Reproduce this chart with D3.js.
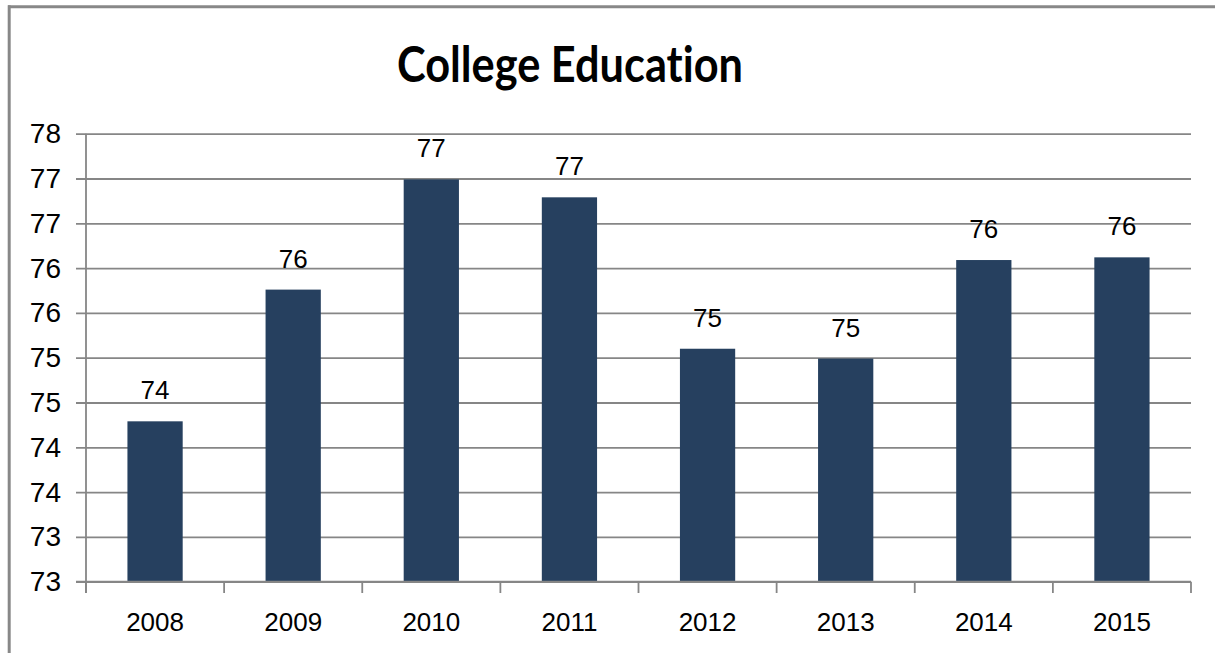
<!DOCTYPE html>
<html>
<head>
<meta charset="utf-8">
<script src="https://cdn.jsdelivr.net/npm/d3@7/dist/d3.min.js"></script>
<style>
  html, body { margin: 0; padding: 0; background: #fff; }
  svg { display: block; }
  text { font-variant-ligatures: none; font-feature-settings: "liga" 0, "clig" 0; }
</style>
</head>
<body>
<svg id="chart" width="1215" height="653"></svg>
<script>
// College Education by year
const years = ["2008", "2009", "2010", "2011", "2012", "2013", "2014", "2015"];
const values = [74.29, 75.76, 76.99, 76.79, 75.10, 74.99, 76.09, 76.12];
const yTicks = [72.5, 73, 73.5, 74, 74.5, 75, 75.5, 76, 76.5, 77, 77.5];
const title = "College Education";

const svg = d3.select("#chart");
const W = 1215, H = 653;
const plot = { left: 86, right: 1191, top: 133.7, bottom: 581.7 };

const gridColor = "#868686";
const barColor = "#26405f";
const fontFamily = "'Liberation Sans', Arial, sans-serif";

// outer frame (top and left edges)
svg.append("line")
  .attr("x1", 8).attr("x2", W).attr("y1", 6.8).attr("y2", 6.8)
  .attr("stroke", "#888").attr("stroke-width", 3);
svg.append("line")
  .attr("x1", 9.2).attr("x2", 9.2).attr("y1", 5.3).attr("y2", H)
  .attr("stroke", "#888").attr("stroke-width", 3);

// title
svg.append("text")
  .attr("x", 570).attr("y", 82)
  .attr("text-anchor", "middle")
  .attr("font-family", "Lato, 'Open Sans', sans-serif")
  .attr("font-weight", "bold")
  .attr("font-size", 49)
  .attr("textLength", 346)
  .attr("lengthAdjust", "spacingAndGlyphs")
  .attr("fill", "#000")
  .text(title);

// scales
const x = d3.scaleBand()
  .domain(years)
  .range([plot.left, plot.right])
  .paddingInner(0.6)
  .paddingOuter(0.3);

const y = d3.scaleLinear()
  .domain([72.5, 77.5])
  .range([plot.bottom, plot.top]);

const fmt = d3.format(".0f");

// value axis with gridlines running across the plot
const yAxis = svg.append("g")
  .attr("transform", `translate(${plot.right},0)`)
  .call(d3.axisLeft(y)
    .tickValues(yTicks)
    .tickFormat(fmt)
    .tickSize(plot.right - 76)
    .tickPadding(15));
yAxis.select(".domain").remove();
yAxis.selectAll(".tick line")
  .attr("stroke", gridColor)
  .attr("stroke-width", 1.8);
yAxis.selectAll(".tick text")
  .attr("font-family", fontFamily)
  .attr("font-size", 28)
  .attr("fill", "#000");

// bars
svg.append("g")
  .selectAll("rect")
  .data(years)
  .join("rect")
  .attr("x", (d) => x(d))
  .attr("width", x.bandwidth())
  .attr("y", (d, i) => y(values[i]))
  .attr("height", (d, i) => y(72.5) - y(values[i]))
  .attr("fill", barColor);

// data labels
svg.append("g")
  .selectAll("text")
  .data(years)
  .join("text")
  .attr("x", (d) => x(d) + x.bandwidth() / 2)
  .attr("y", (d, i) => y(values[i]) - 22)
  .attr("text-anchor", "middle")
  .attr("font-family", fontFamily)
  .attr("font-size", 26)
  .attr("fill", "#000")
  .text((d, i) => fmt(values[i]));

// left axis line
svg.append("line")
  .attr("x1", plot.left).attr("x2", plot.left)
  .attr("y1", plot.top).attr("y2", 593)
  .attr("stroke", gridColor).attr("stroke-width", 1.8);

// category axis line
svg.append("line")
  .attr("x1", 76).attr("x2", plot.right)
  .attr("y1", plot.bottom).attr("y2", plot.bottom)
  .attr("stroke", gridColor).attr("stroke-width", 1.8);

// category boundary ticks
const boundaries = d3.range(years.length + 1).map((i) => plot.left + i * x.step());
svg.append("g")
  .selectAll("line")
  .data(boundaries)
  .join("line")
  .attr("x1", (d) => d).attr("x2", (d) => d)
  .attr("y1", plot.bottom).attr("y2", 593)
  .attr("stroke", gridColor).attr("stroke-width", 1.8);

// category labels
svg.append("g")
  .selectAll("text")
  .data(years)
  .join("text")
  .attr("x", (d) => x(d) + x.bandwidth() / 2)
  .attr("y", 631)
  .attr("text-anchor", "middle")
  .attr("font-family", fontFamily)
  .attr("font-size", 26)
  .attr("fill", "#000")
  .text((d) => d);
</script>
</body>
</html>
